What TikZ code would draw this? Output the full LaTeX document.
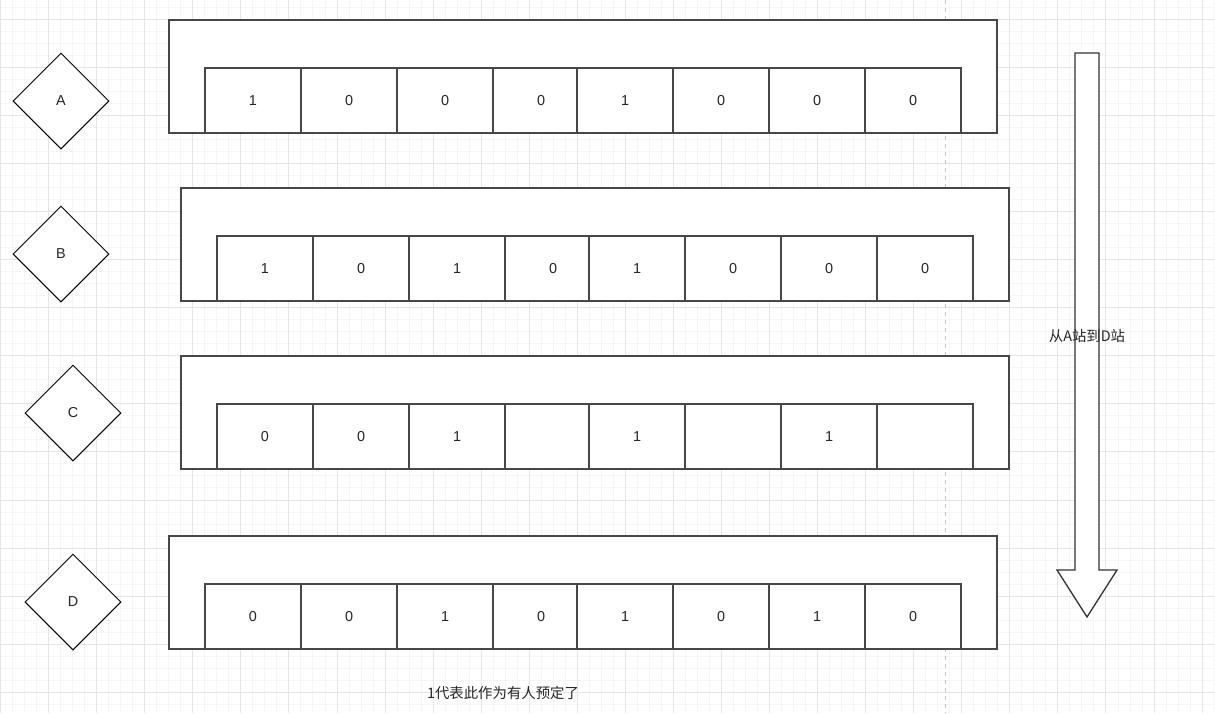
\documentclass[tikz,border=0pt]{standalone}
\usepackage{fontspec}
\setmainfont{Liberation Sans}
\newfontfamily\cjk{Noto Sans CJK SC}
\usetikzlibrary{shapes.geometric}
\tikzset{
  minorgrid/.style={draw=black!4, line width=0.8pt},
  majorgrid/.style={draw=black!10, line width=0.8pt},
  outerbox/.style={draw=black!72, fill=white, line width=1.4pt, rectangle, anchor=north west,
    minimum width=828pt, minimum height=113pt, inner sep=0pt, outer sep=0pt},
  seat/.style={draw=black!72, fill=white, line width=1.4pt, rectangle, anchor=north west,
    minimum width=96pt, minimum height=65pt, inner sep=0pt, outer sep=0pt,
    font=\fontsize{14.4}{17}\selectfont, text=black!85},
  station/.style={draw=black, fill=white, line width=1pt, diamond, minimum width=96pt,
    minimum height=96pt, inner sep=0pt, font=\fontsize{14.4}{17}\selectfont, text=black!85},
  note/.style={font=\cjk\fontsize{14.4}{17}\selectfont, text=black!85, inner sep=0pt}
}
\newcommand{\seatrow}[4]{%
  \node[outerbox] (#1o) at (#2,#3) {};
  \foreach \v [count=\i] in {#4} {
    \pgfmathsetmacro\cx{#2+36+96*(\i-1)-(\i>4)*12}
    \node[seat] (#1c\i) at (\cx,#3+48) {\v};
  }
}
\begin{document}
\begin{tikzpicture}[x=1pt,y=-1pt]
\useasboundingbox (0,0) rectangle (1215,713);
\fill[white] (0,0) rectangle (1215,713);
% grid
\foreach \i in {0,...,101} {\draw[minorgrid] ({0.5+\i*12.015},0) -- ({0.5+\i*12.015},713);}
\foreach \i in {-1,...,59} {\draw[minorgrid] (0,{19.3+\i*12.015}) -- (1215,{19.3+\i*12.015});}
\foreach \i in {0,...,25} {\draw[majorgrid] ({0.5+\i*48.06},0) -- ({0.5+\i*48.06},713);}
\foreach \i in {-1,...,14} {\draw[majorgrid] (0,{19.3+\i*48.06}) -- (1215,{19.3+\i*48.06});}
% page break line
\coordinate (pbtop) at (945.7,0);
\coordinate (pbbot) at (945.7,713);
\draw[black!25, line width=0.8pt, dash pattern=on 4pt off 4pt] (pbtop) -- (pbbot);
% stations
\node[station] (A) at (61,101) {A};
\node[station] (B) at (61,254) {B};
\node[station] (C) at (73,413) {C};
\node[station] (D) at (73,602) {D};
% seat rows
\seatrow{ra}{169}{20}{1,0,0,0,1,0,0,0}
\seatrow{rb}{181}{188}{1,0,1,0,1,0,0,0}
\seatrow{rc}{181}{356}{0,0,1,{},1,{},1,{}}
\seatrow{rd}{169}{536}{0,0,1,0,1,0,1,0}
% direction arrow
\draw[draw=black!80, fill=white, line width=1.3pt, line join=miter]
  (1075,53) -- (1099,53) -- (1099,570) -- (1117,570) -- (1087,617) -- (1057,570) -- (1075,570) -- cycle;
\node[note] (dir) at (1087,336) {从A站到D站};
\node[note] (legend) at (503,693) {1代表此作为有人预定了};
\end{tikzpicture}
\end{document}
